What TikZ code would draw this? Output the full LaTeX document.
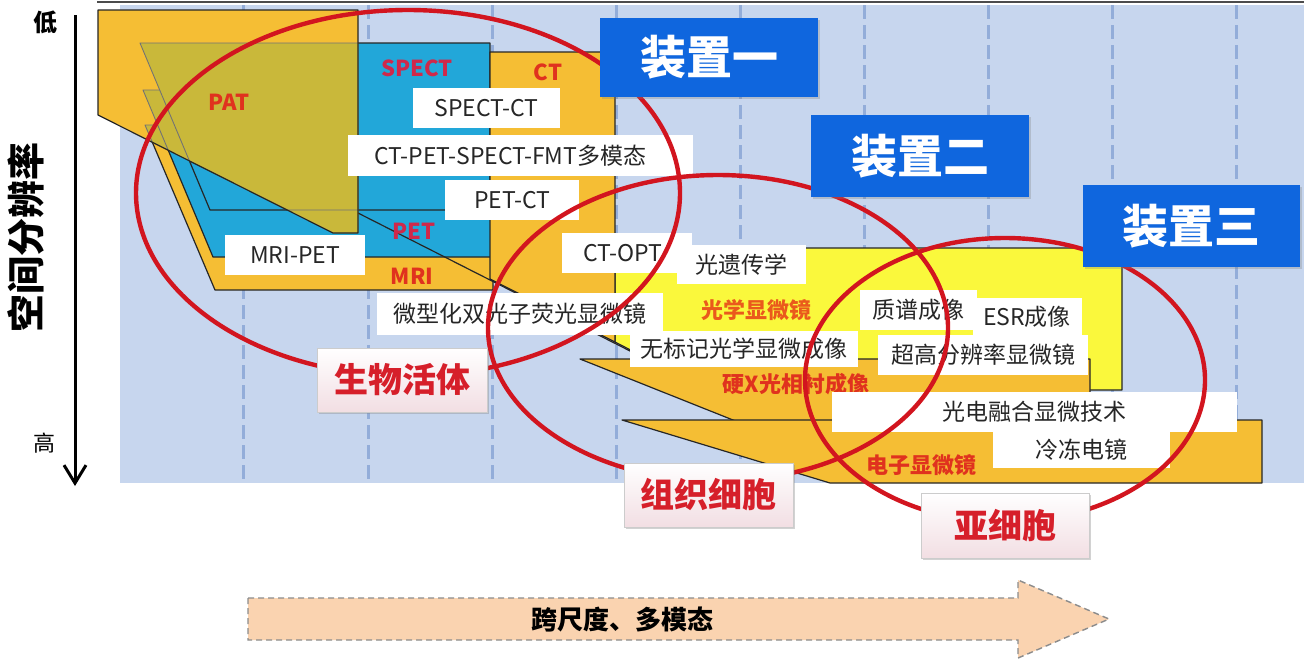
\documentclass[tikz,border=0pt]{standalone}
\usepackage{fontspec}
\setmainfont{Noto Sans CJK SC}
\usetikzlibrary{arrows.meta,shadows}
\definecolor{panel}{HTML}{C7D6EE}
\definecolor{dashc}{HTML}{93ADD9}
\definecolor{orng}{HTML}{F5BE34}
\definecolor{olivec}{HTML}{C9B83A}
\definecolor{cyanb}{HTML}{22A7D9}
\definecolor{yel}{HTML}{FAF83C}
\definecolor{ellred}{HTML}{D2151F}
\definecolor{devblue}{HTML}{0F66DE}
\definecolor{peach}{HTML}{FAD3B0}
\definecolor{labred}{HTML}{E0321E}
\definecolor{labcrim}{HTML}{D0284A}
\definecolor{laborange}{HTML}{EA5A1C}
\definecolor{catred}{HTML}{D61F2A}
\definecolor{catpink}{HTML}{F2DEE3}
\begin{document}
\begin{tikzpicture}[x=0.5pt,y=-0.5pt,
  shapeline/.style={draw=black!85, line width=0.6pt, line join=round},
  innerline/.style={draw=black!55, line width=0.45pt, line join=round},
  lbl/.style={fill=white, inner sep=0pt, text=black!85, font=\fontsize{11.5}{12}\selectfont},
  tag/.style={inner sep=0pt, font=\bfseries\fontsize{11}{12}\selectfont},
  cat/.style={draw=black!20, top color=white, bottom color=catpink, inner sep=0pt,
    drop shadow={shadow xshift=1pt, shadow yshift=-1.2pt, opacity=0.35},
    text=catred, font=\bfseries\fontsize{17}{18}\selectfont},
  dev/.style={fill=devblue, inner sep=0pt, text=white,
    drop shadow={shadow xshift=1pt, shadow yshift=-1.2pt, opacity=0.3},
    font=\bfseries\fontsize{23}{25}\selectfont},
  ell/.style={draw=ellred, line width=2.2pt},
  gridline/.style={draw=dashc, line width=1.5pt, dash pattern=on 7pt off 3pt}
]
\useasboundingbox (0,0) rectangle (1304,660);
\fill[white] (0,0) rectangle (1304,660);
% panel
\fill[panel] (120,5) rectangle (1304,483);
\draw[black!70, line width=1pt] (97,2) -- (1304,2);
\foreach \x in {243,368,492,616,740,864,988,1112,1236}
  \draw[gridline] (\x,5) -- (\x,483);

% light microscope (yellow)
\path[shapeline, fill=yel] (615,248) -- (1122,248) -- (1122,390) -- (708,390) -- (615,342) -- cycle;
% MRI, PET, SPECT, CT
\path[shapeline, fill=orng] (145,125) -- (493,125) -- (493,290) -- (215,290) -- cycle;
\path[shapeline, fill=cyanb] (143,90) -- (493,90) -- (493,257) -- (213,257) -- cycle;
\path[shapeline, fill=cyanb] (140,43) -- (490,43) -- (490,210) -- (210,210) -- cycle;
\path[shapeline, fill=orng] (490,52) -- (615,52) -- (615,342) -- (490,279) -- cycle;
\draw[black!85, line width=0.6pt] (358,213) -- (632,352);
% PAT
\fill[orng] (98,10) -- (358,10) -- (358,233) -- (333,233) -- (98,115) -- cycle;
\begin{scope}
  \clip (98,10) -- (358,10) -- (358,233) -- (333,233) -- (98,115) -- cycle;
  \path[innerline, fill=olivec] (145,125) -- (493,125) -- (493,290) -- (215,290) -- cycle;
  \path[innerline, fill=olivec] (143,90) -- (493,90) -- (493,257) -- (213,257) -- cycle;
  \path[innerline, fill=olivec] (140,43) -- (490,43) -- (490,210) -- (210,210) -- cycle;
\end{scope}
\draw[shapeline] (98,10) -- (358,10) -- (358,233) -- (333,233) -- (98,115) -- cycle;
% hard X-ray and EM
\path[shapeline, fill=orng] (580,359) -- (1090,359) -- (1090,424) -- (743,424) -- cycle;
\path[shapeline, fill=orng] (622,420) -- (1262,420) -- (1262,483) -- (830,483) -- cycle;

% region tags
\node[tag, text=labred] (pat) at (229,102) {PAT};
\node[tag, text=labcrim] (spect) at (417,68) {SPECT};
\node[tag, text=labred] (ct) at (548,72) {CT};
\node[tag, text=labcrim] (pet) at (414,231) {PET};
\node[tag, text=labred] (mri) at (412,276) {MRI};
\node[tag, text=laborange] (lm) at (756,310) {光学显微镜};
\node[tag, text=labred] (hx) at (796,384) {硬X光相衬成像};
\node[tag, text=labred] (em) at (921,465) {电子显微镜};

% white label boxes
\node[lbl, minimum width=73.5pt, minimum height=20pt] (spectct) at (486.5,108) {SPECT-CT};
\node[lbl, minimum width=172.5pt, minimum height=20.5pt] (multi) at (520.5,155.5) {CT-PET-SPECT-FMT多模态\hspace*{10pt}};
\node[lbl, minimum width=67pt, minimum height=20pt] (petct) at (512,200) {PET-CT};
\node[lbl, minimum width=70pt, minimum height=20pt] (mripet) at (295,255) {MRI-PET};
\node[lbl, minimum width=65pt, minimum height=20pt] (ctopt) at (627,253) {CT-OPT\hspace*{4pt}};
\node[lbl, minimum width=64.5pt, minimum height=19.5pt] (opto) at (741.5,264.5) {光遗传学};
\node[lbl, minimum width=143pt, minimum height=21pt] (twop) at (520,314) {微型化双光子荧光显微镜};
\node[lbl, minimum width=114pt, minimum height=18pt] (labelfree) at (744,349) {无标记光学显微成像};
\node[lbl, minimum width=58.5pt, minimum height=20pt] (ms) at (918,310) {质谱成像};
\node[lbl, minimum width=54.5pt, minimum height=19.5pt] (esr) at (1027,317) {ESR成像};
\node[lbl, minimum width=105pt, minimum height=20pt] (sr) at (983,355) {超高分辨率显微镜};
\node[lbl, minimum width=202.5pt, minimum height=20pt] (clem) at (1034,412) {光电融合显微技术};
\node[lbl, minimum width=88.5pt, minimum height=18pt] (cryo) at (1081,450) {冷冻电镜};

% ellipses
\draw[ell] (408,193) ellipse [x radius=136pt, y radius=91.5pt];
\draw[ell] (718,328) ellipse [x radius=115pt, y radius=76.5pt];
\draw[ell] (1005,380) ellipse [x radius=100pt, y radius=71pt];

% category boxes
\node[cat, minimum width=85pt, minimum height=32pt] (vivo) at (402,380) {生物活体};
\node[cat, minimum width=84.5pt, minimum height=32pt] (tissue) at (708.5,495) {组织细胞};
\node[cat, minimum width=84pt, minimum height=32.5pt] (subcell) at (1005,525.5) {亚细胞};

% device boxes
\node[dev, minimum width=109pt, minimum height=39.5pt] (dev1) at (709,57.5) {装置一};
\node[dev, minimum width=109pt, minimum height=41pt] (dev2) at (920,156) {装置二};
\node[dev, minimum width=108.5pt, minimum height=41pt] (dev3) at (1191.5,226) {装置三};

% vertical axis
\coordinate (atop) at (75,15);
\coordinate (abot) at (75,486);
\draw[line width=1.5pt, -{Straight Barb[length=9pt,width=11pt]}] (atop) -- (abot);
\node[font=\bfseries\fontsize{12}{13}\selectfont] (low) at (45,22) {低};
\node[font=\fontsize{11}{12}\selectfont] (high) at (44,443) {高};
\node[rotate=90, font=\bfseries\fontsize{19}{20}\selectfont] (ylab) at (26,237) {空间分辨率};

% bottom arrow
\draw[draw=black!45, dash pattern=on 3pt off 2pt, line width=0.7pt, fill=peach]
  (248,598) -- (1018,598) -- (1018,580) -- (1109,619) -- (1018,658) -- (1018,640) -- (248,640) -- cycle;
\node[font=\bfseries\fontsize{13}{14}\selectfont] (scale) at (622,619) {跨尺度、多模态};
\end{tikzpicture}
\end{document}
